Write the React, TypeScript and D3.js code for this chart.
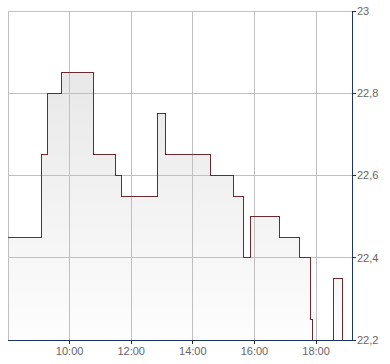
import React from "react";
import * as d3 from "d3";

const times = ["08:00","09:05","09:16","09:44","10:46","11:30","11:41","12:51","13:06","14:35","15:19","15:38","15:52","16:48","17:28","17:49","17:50","17:53","18:34","18:51","19:10"];
const values = [22.45,22.65,22.8,22.85,22.65,22.6,22.55,22.75,22.65,22.6,22.55,22.4,22.5,22.45,22.4,22.35,22.25,22.2,22.35,22.2,22.2];
const xTicks = ["10:00","12:00","14:00","16:00","18:00"];
const yTicks = [22.2, 22.4, 22.6, 22.8, 23];

const W = 390, H = 364;
const L = 8, R = 352, T = 11, B = 340;

const toH = (s: string) => { const [h, m] = s.split(":").map(Number); return h + m / 60; };

export default function App() {
  const x = d3.scaleLinear().domain([8, 19 + 10 / 60]).range([L, R]);
  const y = d3.scaleLinear().domain([22.2, 23]).range([B, T]);
  const data = times.map((t, i) => ({ t: toH(t), v: values[i] }));
  const line = d3.line<any>().x(d => x(d.t)).y(d => y(d.v)).curve(d3.curveStepAfter);
  const area = d3.area<any>().x(d => x(d.t)).y0(B).y1(d => y(d.v)).curve(d3.curveStepAfter);
  const fmt = (v: number) => (Math.round(v * 10) / 10).toString().replace(".", ",");
  const font = "Arial, 'Liberation Sans', sans-serif";
  return (
    <svg width={W} height={H} style={{ position: "absolute", left: 0, top: 0, background: "#fff" }}>
      <defs>
        <linearGradient id="g" gradientUnits="userSpaceOnUse" x1="0" y1={T} x2="0" y2={B}>
          <stop offset="0" stopColor="#e3e3e3" />
          <stop offset="1" stopColor="#fdfdfd" />
        </linearGradient>
        <clipPath id="c"><rect x={L} y={T} width={R - L} height={B - T} /></clipPath>
      </defs>
      <path d={area(data) || ""} fill="url(#g)" clipPath="url(#c)" />
      <g stroke="#c0c0c0" strokeWidth={1} shapeRendering="crispEdges">
        {yTicks.map(v => <line key={v} x1={L} x2={R} y1={y(v)} y2={y(v)} />)}
        {xTicks.map(t => <line key={t} x1={x(toH(t))} x2={x(toH(t))} y1={T} y2={B} />)}
        <line x1={L} x2={L} y1={T} y2={B} />
      </g>
      <path d={line(data) || ""} fill="none" stroke="#6b2a2d" strokeWidth={1} clipPath="url(#c)" shapeRendering="crispEdges" />
      <g stroke="#1c3461" strokeWidth={1} shapeRendering="crispEdges">
        <line x1={L} x2={R} y1={B} y2={B} />
        <line x1={R} x2={R} y1={T} y2={B} />
        {yTicks.map(v => <line key={v} x1={R} x2={R + 4} y1={y(v)} y2={y(v)} />)}
      </g>
      <g stroke="#222" strokeWidth={1} shapeRendering="crispEdges">
        {xTicks.map(t => <line key={t} x1={x(toH(t))} x2={x(toH(t))} y1={B} y2={B + 4} />)}
      </g>
      <g fill="#666" fontFamily={font} fontSize={11}>
        {yTicks.map(v => <text key={v} x={R + 5} y={y(v)} dy="0.35em">{fmt(v)}</text>)}
        {xTicks.map(t => <text key={t} x={x(toH(t))} y={355} textAnchor="middle">{t}</text>)}
      </g>
    </svg>
  );
}
